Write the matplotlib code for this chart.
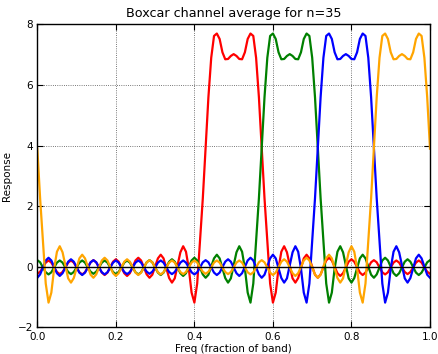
import numpy as np
import matplotlib
matplotlib.use("Agg")
import matplotlib.pyplot as plt

# Frequency grid (fraction of band), 141 samples
freq = np.linspace(0.0, 1.0, 141)

# Channel responses, one per channel
red = [
    -0.23, -0.16, -0.02, 0.14, 0.21, 0.14, -0.02, -0.17, -0.24, -0.17,
    -0.02, 0.14, 0.21, 0.14, -0.02, -0.18, -0.25, -0.18, -0.02, 0.15,
    0.22, 0.15, -0.02, -0.19, -0.27, -0.19, -0.01, 0.17, 0.25, 0.17,
    -0.02, -0.21, -0.30, -0.21, 0.00, 0.21, 0.30, 0.21, -0.02, -0.25,
    -0.36, -0.26, 0.01, 0.28, 0.40, 0.28, -0.04, -0.37, -0.52, -0.38,
    0.05, 0.48, 0.68, 0.50, -0.05, -0.85, -1.18, -0.55, 0.85, 2.26,
    3.90, 5.60, 6.90, 7.62, 7.70, 7.52, 7.08, 6.85, 6.86, 6.96,
    7.02,
    6.96, 6.86, 6.85, 7.08, 7.52, 7.70, 7.62, 6.90, 5.60, 3.90,
    2.26, 0.85, -0.55, -1.18, -0.85, -0.05, 0.50, 0.68, 0.48, 0.05,
    -0.38, -0.52, -0.37, -0.04, 0.28, 0.40, 0.28, 0.01, -0.26, -0.36,
    -0.25, -0.02, 0.21, 0.30, 0.21, 0.00, -0.21, -0.30, -0.21, -0.02,
    0.17, 0.25, 0.17, -0.01, -0.19, -0.27, -0.19, -0.02, 0.15, 0.22,
    0.15, -0.02, -0.18, -0.25, -0.18, -0.02, 0.14, 0.21, 0.14, -0.02,
    -0.17, -0.24, -0.17, -0.02, 0.14, 0.21, 0.14, -0.02, -0.16, -0.23,
]

green = [
    0.22, 0.15, -0.02, -0.18, -0.25, -0.18, -0.02, 0.14, 0.21, 0.14,
    -0.02, -0.17, -0.24, -0.17, -0.02, 0.14, 0.21, 0.14, -0.02, -0.16,
    -0.23, -0.16, -0.02, 0.14, 0.21, 0.14, -0.02, -0.17, -0.24, -0.17,
    -0.02, 0.14, 0.21, 0.14, -0.02, -0.18, -0.25, -0.18, -0.02, 0.15,
    0.22, 0.15, -0.02, -0.19, -0.27, -0.19, -0.01, 0.17, 0.25, 0.17,
    -0.02, -0.21, -0.30, -0.21, 0.00, 0.21, 0.30, 0.21, -0.02, -0.25,
    -0.36, -0.26, 0.01, 0.28, 0.40, 0.28, -0.04, -0.37, -0.52, -0.38,
    0.05, 0.48, 0.68, 0.50, -0.05, -0.85, -1.18, -0.55, 0.85, 2.26,
    3.90, 5.60, 6.90, 7.62, 7.70, 7.52, 7.08, 6.85, 6.86, 6.96,
    7.02,
    6.96, 6.86, 6.85, 7.08, 7.52, 7.70, 7.62, 6.90, 5.60, 3.90,
    2.26, 0.85, -0.55, -1.18, -0.85, -0.05, 0.50, 0.68, 0.48, 0.05,
    -0.38, -0.52, -0.37, -0.04, 0.28, 0.40, 0.28, 0.01, -0.26, -0.36,
    -0.25, -0.02, 0.21, 0.30, 0.21, 0.00, -0.21, -0.30, -0.21, -0.02,
    0.17, 0.25, 0.17, -0.01, -0.19, -0.27, -0.19, -0.02, 0.15, 0.22,
]

blue = [
    -0.36, -0.25, -0.02, 0.21, 0.30, 0.21, 0.00, -0.21, -0.30, -0.21,
    -0.02, 0.17, 0.25, 0.17, -0.01, -0.19, -0.27, -0.19, -0.02, 0.15,
    0.22, 0.15, -0.02, -0.18, -0.25, -0.18, -0.02, 0.14, 0.21, 0.14,
    -0.02, -0.17, -0.24, -0.17, -0.02, 0.14, 0.21, 0.14, -0.02, -0.16,
    -0.23, -0.16, -0.02, 0.14, 0.21, 0.14, -0.02, -0.17, -0.24, -0.17,
    -0.02, 0.14, 0.21, 0.14, -0.02, -0.18, -0.25, -0.18, -0.02, 0.15,
    0.22, 0.15, -0.02, -0.19, -0.27, -0.19, -0.01, 0.17, 0.25, 0.17,
    -0.02, -0.21, -0.30, -0.21, 0.00, 0.21, 0.30, 0.21, -0.02, -0.25,
    -0.36, -0.26, 0.01, 0.28, 0.40, 0.28, -0.04, -0.37, -0.52, -0.38,
    0.05, 0.48, 0.68, 0.50, -0.05, -0.85, -1.18, -0.55, 0.85, 2.26,
    3.90, 5.60, 6.90, 7.62, 7.70, 7.52, 7.08, 6.85, 6.86, 6.96,
    7.02,
    6.96, 6.86, 6.85, 7.08, 7.52, 7.70, 7.62, 6.90, 5.60, 3.90,
    2.26, 0.85, -0.55, -1.18, -0.85, -0.05, 0.50, 0.68, 0.48, 0.05,
    -0.38, -0.52, -0.37, -0.04, 0.28, 0.40, 0.28, 0.01, -0.26, -0.36,
]

orange = [
    3.90, 2.26, 0.85, -0.55, -1.18, -0.85, -0.05, 0.50, 0.68, 0.48,
    0.05, -0.38, -0.52, -0.37, -0.04, 0.28, 0.40, 0.28, 0.01, -0.26,
    -0.36, -0.25, -0.02, 0.21, 0.30, 0.21, 0.00, -0.21, -0.30, -0.21,
    -0.02, 0.17, 0.25, 0.17, -0.01, -0.19, -0.27, -0.19, -0.02, 0.15,
    0.22, 0.15, -0.02, -0.18, -0.25, -0.18, -0.02, 0.14, 0.21, 0.14,
    -0.02, -0.17, -0.24, -0.17, -0.02, 0.14, 0.21, 0.14, -0.02, -0.16,
    -0.23, -0.16, -0.02, 0.14, 0.21, 0.14, -0.02, -0.17, -0.24, -0.17,
    -0.02, 0.14, 0.21, 0.14, -0.02, -0.18, -0.25, -0.18, -0.02, 0.15,
    0.22, 0.15, -0.02, -0.19, -0.27, -0.19, -0.01, 0.17, 0.25, 0.17,
    -0.02, -0.21, -0.30, -0.21, 0.00, 0.21, 0.30, 0.21, -0.02, -0.25,
    -0.36, -0.26, 0.01, 0.28, 0.40, 0.28, -0.04, -0.37, -0.52, -0.38,
    0.05, 0.48, 0.68, 0.50, -0.05, -0.85, -1.18, -0.55, 0.85, 2.26,
    3.90, 5.60, 6.90, 7.62, 7.70, 7.52, 7.08, 6.85, 6.86, 6.96,
    7.02,
    6.96, 6.86, 6.85, 7.08, 7.52, 7.70, 7.62, 6.90, 5.60, 3.90,
]

channels = [red, green, blue, orange]
colors = ["red", "green", "blue", "orange"]

plt.rcParams["font.family"] = "DejaVu Sans"
plt.rcParams["font.size"] = 7.5

fig = plt.figure(figsize=(4.39, 3.54), dpi=100)
ax = fig.add_axes([0.085, 0.075, 0.8945, 0.856])

for resp, col in zip(channels, colors):
    ax.plot(freq, resp, color=col, linewidth=1.6)
ax.axhline(0, color="black", linewidth=1.0)

ax.set_xlim(0, 1)
ax.set_ylim(-2, 8)
ax.set_xticks([0.0, 0.2, 0.4, 0.6, 0.8, 1.0])
ax.set_yticks([-2, 0, 2, 4, 6, 8])
ax.tick_params(direction="in", top=True, right=True, length=4, labelsize=7.5, pad=3)
ax.grid(True, color="black", linestyle=":", linewidth=0.6, alpha=0.7)
for sp in ax.spines.values():
    sp.set_linewidth(1.0)

ax.set_title("Boxcar channel average for n=35", fontsize=9.2, pad=5)
ax.set_xlabel("Freq (fraction of band)", fontsize=7.5, labelpad=2)
ax.set_ylabel("Response", fontsize=7.5, labelpad=4)

fig.savefig("out.png", dpi=100)
